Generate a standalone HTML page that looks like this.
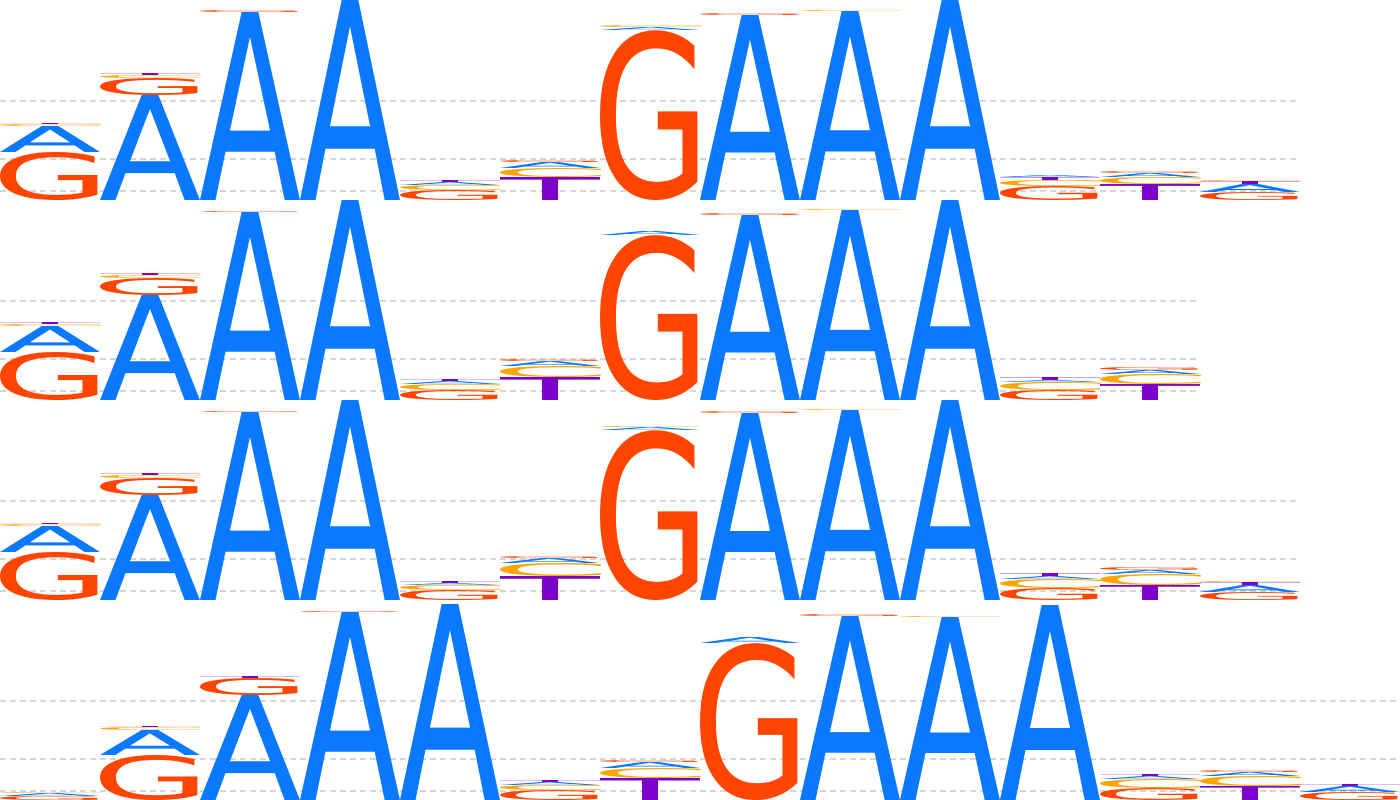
<!DOCTYPE html>
<html><head><meta charset="utf-8"><style>
html,body{margin:0;padding:0;background:#fff;overflow:hidden;}
svg{display:block;}
</style></head><body>
<svg id="logo" width="1400" height="800" viewBox="0 0 1400 800" xmlns="http://www.w3.org/2000/svg"></svg>
<script>
// Letter stacks per row: each column lists [letter, bits] bottom-to-top
const row1 = [
 [["G",0.48],["A",0.26],["C",0.02],["T",0.01]],
 [["A",1.05],["G",0.17],["C",0.03],["T",0.02]],
 [["A",1.88],["G",0.02]],
 [["A",2.0]],
 [["G",0.10],["C",0.05],["A",0.03],["T",0.02]],
 [["T",0.23],["C",0.09],["A",0.06],["G",0.02]],
 [["G",1.70],["A",0.03],["C",0.02]],
 [["A",1.85],["G",0.02]],
 [["A",1.89],["C",0.01]],
 [["A",2.0]],
 [["G",0.14],["C",0.06],["T",0.03],["A",0.02]],
 [["T",0.16],["C",0.07],["A",0.04],["G",0.02]],
 [["G",0.08],["A",0.08],["T",0.03],["C",0.01]]
];
const row2 = [
 [["G",0.48],["A",0.26],["C",0.02],["T",0.02]],
 [["A",1.05],["G",0.17],["C",0.03],["T",0.02]],
 [["A",1.88],["G",0.01]],
 [["A",2.0]],
 [["G",0.10],["C",0.06],["A",0.03],["T",0.02]],
 [["T",0.23],["C",0.11],["A",0.05],["G",0.02]],
 [["G",1.65],["A",0.04]],
 [["A",1.85],["G",0.02]],
 [["A",1.90],["C",0.01]],
 [["A",2.0]],
 [["G",0.10],["C",0.08],["A",0.02],["T",0.03]],
 [["T",0.16],["C",0.10],["A",0.04],["G",0.03]]
];
const row3 = [
 [["G",0.48],["A",0.26],["C",0.02],["T",0.01]],
 [["A",1.05],["G",0.17],["C",0.03],["T",0.02]],
 [["A",1.88],["G",0.01]],
 [["A",2.0]],
 [["G",0.10],["C",0.05],["A",0.02],["T",0.02]],
 [["T",0.24],["C",0.13],["A",0.05],["G",0.02]],
 [["G",1.70],["A",0.03],["C",0.01]],
 [["A",1.87],["G",0.02]],
 [["A",1.90],["C",0.01]],
 [["A",2.0]],
 [["G",0.12],["C",0.09],["A",0.03],["T",0.03]],
 [["T",0.15],["C",0.11],["A",0.04],["G",0.03]],
 [["G",0.08],["A",0.07],["T",0.03],["C",0.01]]
];
const row4 = [
 [["G",0.04],["A",0.03],["C",0.01]],
 [["G",0.45],["A",0.25],["C",0.03],["T",0.01]],
 [["A",1.05],["G",0.17],["T",0.02]],
 [["A",1.88],["G",0.01]],
 [["A",1.96]],
 [["G",0.10],["C",0.05],["A",0.03],["T",0.02]],
 [["T",0.22],["C",0.10],["A",0.06],["G",0.02]],
 [["G",1.57],["A",0.06]],
 [["A",1.84],["G",0.02]],
 [["A",1.83],["C",0.01]],
 [["A",1.95]],
 [["G",0.12],["C",0.09],["A",0.03],["T",0.02]],
 [["T",0.14],["C",0.10],["A",0.04],["G",0.02]],
 [["G",0.08],["A",0.06],["T",0.02]]
];
const rows = [row1,row2,row3,row4];
const gridBits = [0.09, 0.41, 0.99];
const colors = {A:"#0a78ff",C:"#ffa500",G:"#ff4500",T:"#7a00cc"};
// approximate DejaVu Sans ink bounds (em units)
const ink = {
  A:{x0:0.008,x1:0.676,y0:0,y1:0.729},
  C:{x0:0.056,x1:0.640,y0:-0.014,y1:0.743},
  G:{x0:0.056,x1:0.710,y0:-0.014,y1:0.743},
  T:{x0:-0.003,x1:0.614,y0:0,y1:0.729}
};

const svg = document.getElementById('logo');
const NS = "http://www.w3.org/2000/svg";
const rowH = 200, colW = 100, pxPerBit = 100, fs = 100;
const yScale = (b) => b * pxPerBit;
const xScale = (i) => i * colW;

rows.forEach((row, r) => {
  const base = (r + 1) * rowH;
  const g = document.createElementNS(NS, 'g');
  
  
  svg.appendChild(g);
  const width = row.length * colW;
  gridBits.forEach(b => {
    const ln = document.createElementNS(NS, 'line');
    
    
    const y = base - yScale(b);
    ln.setAttribute('x1', 0); ln.setAttribute('x2', width);
    ln.setAttribute('y1', y); ln.setAttribute('y2', y);
    ln.setAttribute('stroke', '#bdbdbd'); ln.setAttribute('stroke-width', 1.2);
    ln.setAttribute('stroke-dasharray', '6,4');
    g.appendChild(ln);
  });
  row.forEach((col, c) => {
    let y = base;
    col.forEach(([L, bits]) => {
      const h = yScale(bits);
      const m = ink[L];
      const sx = colW / ((m.x1 - m.x0) * fs);
      const sy = h / ((m.y1 - m.y0) * fs);
      const tx = xScale(c) - m.x0 * fs * sx;
      const ty = y + m.y0 * fs * sy;
      const t = document.createElementNS(NS, 'text');
      
      
      t.textContent = L;
      t.setAttribute('x', 0); t.setAttribute('y', 0);
      t.setAttribute('font-family', '"DejaVu Sans", "Liberation Sans", sans-serif');
      t.setAttribute('font-size', fs);
      t.setAttribute('fill', colors[L]);
      t.setAttribute('transform', 'translate(' + tx + ',' + ty + ') scale(' + sx + ',' + sy + ')');
      g.appendChild(t);
      y -= h;
    });
  });
});
</script>
</body></html>
